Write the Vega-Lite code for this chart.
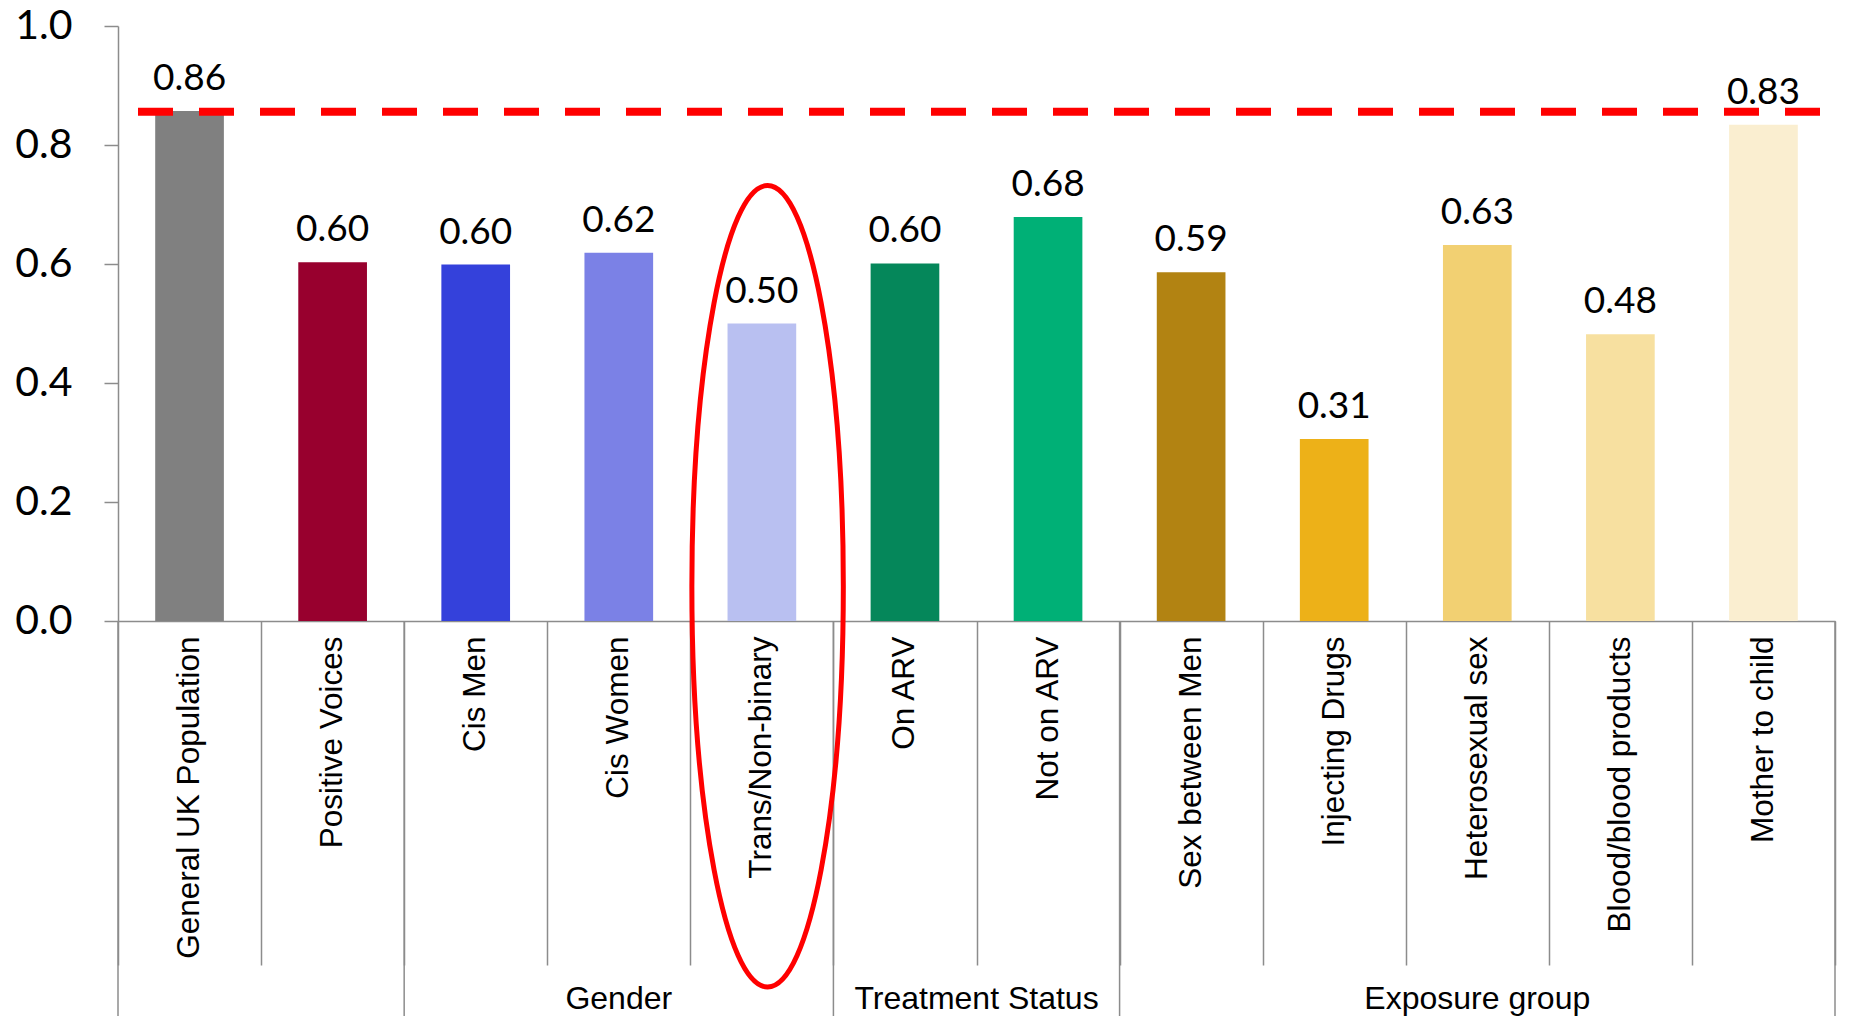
{
  "$schema": "https://vega.github.io/schema/vega-lite/v6.json",
  "width": 1717,
  "height": 595,
  "autosize": {"type": "none"},
  "padding": {"left": 118, "top": 26, "right": 19, "bottom": 395},
  "background": "white",
  "config": {"view": {"stroke": null}},
  "datasets": {
    "bars": [
      {"category": "General UK Population", "value": 0.857},
      {"category": "Positive Voices", "value": 0.603},
      {"category": "Cis Men", "value": 0.599},
      {"category": "Cis Women", "value": 0.619},
      {"category": "Trans/Non-binary", "value": 0.5},
      {"category": "On ARV", "value": 0.601},
      {"category": "Not on ARV", "value": 0.679},
      {"category": "Sex between Men", "value": 0.586},
      {"category": "Injecting Drugs", "value": 0.306},
      {"category": "Heterosexual sex", "value": 0.632},
      {"category": "Blood/blood products", "value": 0.482},
      {"category": "Mother to child", "value": 0.834}
    ],
    "groupStarts": [
      {"category": "General UK Population"},
      {"category": "Cis Men"},
      {"category": "On ARV"},
      {"category": "Sex between Men"}
    ],
    "groupEnd": [{"category": "Mother to child"}],
    "groupCentred": [
      {"category": "Cis Women", "group": "Gender"},
      {"category": "Heterosexual sex", "group": "Exposure group"}
    ],
    "groupBetween": [{"category": "On ARV", "group": "Treatment Status"}],
    "highlight": [{"category": "Trans/Non-binary"}],
    "reference": [{"value": 0.856}]
  },
  "layer": [
    {
      "data": {"name": "bars"},
      "mark": {"type": "bar", "width": {"band": 0.48}},
      "encoding": {
        "x": {
          "field": "category",
          "type": "nominal",
          "sort": null,
          "scale": {
            "domain": ["General UK Population", "Positive Voices", "Cis Men", "Cis Women", "Trans/Non-binary", "On ARV", "Not on ARV", "Sex between Men", "Injecting Drugs", "Heterosexual sex", "Blood/blood products", "Mother to child"],
            "paddingInner": 0,
            "paddingOuter": 0
          },
          "axis": {
            "title": null,
            "labelAngle": -90,
            "labelFont": "Liberation Sans",
            "labelFontSize": 31.5,
            "labelColor": "#000000",
            "labelLimit": 0,
            "labelOverlap": false,
            "labelPadding": -329,
            "tickBand": "extent",
            "tickSize": 344,
            "tickColor": "#8c8c8c",
            "tickWidth": 1.5,
            "domainColor": "#8c8c8c",
            "domainWidth": 1.5
          }
        },
        "y": {
          "field": "value",
          "type": "quantitative",
          "scale": {"domain": [0, 1], "nice": false},
          "axis": {
            "title": null,
            "values": [0, 0.2, 0.4, 0.6, 0.8, 1.0],
            "format": ".1f",
            "grid": false,
            "labelFont": "Lato",
            "labelFontSize": 41,
            "labelColor": "#000000",
            "labelPadding": 32,
            "tickSize": 14,
            "tickColor": "#8c8c8c",
            "tickWidth": 1.5,
            "domainColor": "#8c8c8c",
            "domainWidth": 1.5
          }
        },
        "color": {
          "field": "category",
          "type": "nominal",
          "legend": null,
          "scale": {
            "domain": ["General UK Population", "Positive Voices", "Cis Men", "Cis Women", "Trans/Non-binary", "On ARV", "Not on ARV", "Sex between Men", "Injecting Drugs", "Heterosexual sex", "Blood/blood products", "Mother to child"],
            "range": ["#808080", "#98002E", "#3441DB", "#7B81E6", "#B9C0F1", "#05875A", "#00B076", "#B28312", "#EDB118", "#F2D072", "#F7E0A0", "#FAEED0"]
          }
        }
      }
    },
    {
      "data": {"name": "reference"},
      "mark": {"type": "rule", "color": "#FF0000", "strokeWidth": 8, "strokeDash": [35, 26], "strokeDashOffset": 46},
      "encoding": {"y": {"field": "value", "type": "quantitative"}}
    },
    {
      "data": {"name": "bars"},
      "mark": {"type": "text", "font": "Lato", "fontSize": 37, "color": "#000000", "baseline": "alphabetic", "dy": -21},
      "encoding": {
        "x": {"field": "category", "type": "nominal", "sort": null},
        "y": {"field": "value", "type": "quantitative"},
        "text": {"field": "value", "type": "quantitative", "format": ".2f"}
      }
    },
    {
      "data": {"name": "groupStarts"},
      "mark": {"type": "rule", "color": "#8c8c8c", "strokeWidth": 1.5},
      "encoding": {
        "x": {"field": "category", "type": "nominal", "sort": null, "bandPosition": 0},
        "y": {"datum": 0},
        "y2": {"datum": -0.67}
      }
    },
    {
      "data": {"name": "groupEnd"},
      "mark": {"type": "rule", "color": "#8c8c8c", "strokeWidth": 1.5},
      "encoding": {
        "x": {"field": "category", "type": "nominal", "sort": null, "bandPosition": 1},
        "y": {"datum": 0},
        "y2": {"datum": -0.67}
      }
    },
    {
      "data": {"name": "groupCentred"},
      "mark": {"type": "text", "font": "Liberation Sans", "fontSize": 32, "color": "#000000", "baseline": "middle", "align": "center"},
      "encoding": {
        "x": {"field": "category", "type": "nominal", "sort": null},
        "y": {"datum": -0.635},
        "text": {"field": "group"}
      }
    },
    {
      "data": {"name": "groupBetween"},
      "mark": {"type": "text", "font": "Liberation Sans", "fontSize": 32, "color": "#000000", "baseline": "middle", "align": "center"},
      "encoding": {
        "x": {"field": "category", "type": "nominal", "sort": null, "bandPosition": 1},
        "y": {"datum": -0.635},
        "text": {"field": "group"}
      }
    },
    {
      "data": {"name": "highlight"},
      "mark": {
        "type": "point",
        "filled": false,
        "stroke": "#FF0000",
        "strokeWidth": 5,
        "opacity": 1,
        "size": 642242,
        "shape": "M 0 -1 C 0.1044 -1 0.189 -0.5523 0.189 0 C 0.189 0.5523 0.1044 1 0 1 C -0.1044 1 -0.189 0.5523 -0.189 0 C -0.189 -0.5523 -0.1044 -1 0 -1 Z"
      },
      "encoding": {
        "x": {"field": "category", "type": "nominal", "sort": null, "bandPosition": 0.54},
        "y": {"datum": 0.0583}
      }
    }
  ]
}
